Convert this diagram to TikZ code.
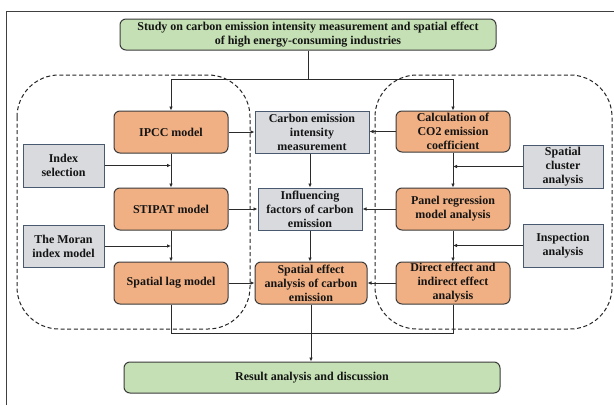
\documentclass[tikz,border=0pt]{standalone}
\usepackage{fontspec}
\setmainfont{Liberation Serif}
\usetikzlibrary{arrows.meta}
\definecolor{orangefill}{HTML}{F1B083}
\definecolor{grayfill}{HTML}{D8DADD}
\definecolor{greenfill}{HTML}{C5E0B4}
\definecolor{boxline}{HTML}{3B3B3B}
\definecolor{grayline}{HTML}{485970}
\definecolor{lineclr}{HTML}{2B2B2B}
\tikzset{
  base/.style={inner sep=0pt, align=center, font=\fontsize{12}{14}\selectfont\bfseries, text=black!92},
  orangebox/.style={base, draw=boxline, line width=1pt, fill=orangefill, rounded corners=6pt},
  graybox/.style={base, draw=grayline, line width=1pt, fill=grayfill},
  greenbox/.style={base, draw=boxline, line width=1pt, fill=greenfill, rounded corners=6pt},
  conn/.style={draw=lineclr, line width=1pt},
  arr/.style={conn, -{Latex[length=4pt,width=3.6pt]}},
  region/.style={draw=black!85, line width=1pt, dash pattern=on 4pt off 2.6pt, rounded corners=42pt},
}
\begin{document}
\begin{tikzpicture}[x=1pt,y=-1pt]
\useasboundingbox (0,0) rectangle (614,405);
\fill[white] (0,0) rectangle (614,405);
% frame
\draw[black!75, line width=1pt] (6,405) -- (6,11) -- (614,11);
% dashed regions
\draw[region] (17,75) rectangle (250,329);
\draw[region] (375,75) rectangle (612,329);
% top and bottom
\node[greenbox, minimum width=376pt, minimum height=31pt] (top) at (308,34.5) {Study on carbon emission intensity measurement and spatial effect\\of high energy-consuming industries};
\node[greenbox, minimum width=376pt, minimum height=31pt] (result) at (312,377.5) {Result analysis and discussion};
% left column
\node[orangebox, minimum width=114pt, minimum height=42pt] (ipcc) at (171,132) {IPCC model};
\node[orangebox, minimum width=114pt, minimum height=42pt] (stipat) at (171,209) {STIPAT model};
\node[orangebox, minimum width=114pt, minimum height=42pt] (lag) at (171,283) {Spatial lag model};
\node[graybox, minimum width=81pt, minimum height=43pt] (index) at (63.5,165.5) {Index\\selection};
\node[graybox, minimum width=81pt, minimum height=42pt] (moran) at (63.5,246) {The Moran\\index model};
% center column
\node[graybox, minimum width=114pt, minimum height=42pt] (carbon) at (312,132) {Carbon emission\\intensity\\measurement};
\node[graybox, minimum width=104pt, minimum height=42pt] (influ) at (310,209) {Influencing\\factors of carbon\\emission};
\node[orangebox, minimum width=112pt, minimum height=42pt] (effect) at (311,283) {Spatial effect\\analysis of carbon\\emission};
% right column
\node[orangebox, minimum width=114pt, minimum height=41pt] (calc) at (453,131.5) {Calculation of\\CO2 emission\\coefficient};
\node[orangebox, minimum width=114pt, minimum height=42pt] (panel) at (453,209) {Panel regression\\model analysis};
\node[orangebox, minimum width=114pt, minimum height=42pt] (direct) at (453,283) {Direct effect and\\indirect effect\\analysis};
\node[graybox, minimum width=80pt, minimum height=43pt] (cluster) at (563,166.5) {Spatial\\cluster\\analysis};
\node[graybox, minimum width=80pt, minimum height=43pt] (inspect) at (563,245.5) {Inspection\\analysis};
% top distribution
\coordinate (split) at (308,79);
\draw[conn] (top.south) -- (split);
\draw[arr] (split) -| (ipcc.north);
\draw[arr] (split) -| (calc.north);
% vertical flows
\draw[arr] (ipcc) -- (stipat);
\draw[arr] (stipat) -- (lag);
\draw[arr] (carbon.south -| influ.north) -- (influ.north);
\draw[arr] (influ.south) -- (influ.south |- effect.north);
\draw[arr] (calc) -- (panel);
\draw[arr] (panel) -- (direct);
% horizontal flows
\draw[arr] (ipcc.east) -- (ipcc.east -| carbon.west);
\draw[arr] (calc.west) -- (calc.west -| carbon.east);
\draw[arr] (stipat) -- (influ);
\draw[arr] (panel) -- (influ);
\draw[arr] (lag) -- (effect);
\draw[arr] (direct) -- (effect);
% side inputs
\draw[arr] (index.east) -- (index.east -| ipcc.south);
\draw[arr] (moran.east) -- (moran.east -| stipat.south);
\draw[arr] (cluster.west) -- (cluster.west -| calc.south);
\draw[arr] (inspect.west) -- (inspect.west -| panel.south);
% bottom gathering
\coordinate (gather) at (311,333);
\draw[conn] (lag.south) |- (gather);
\draw[conn] (direct.south) |- (gather);
\draw[arr] (effect.south) -- (effect.south |- result.north);
\end{tikzpicture}
\end{document}
